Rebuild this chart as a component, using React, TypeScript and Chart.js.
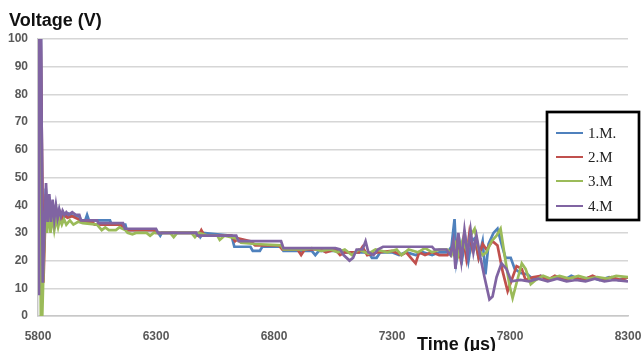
import React, { useEffect, useRef } from "react";
import { Chart, registerables } from "chart.js";

Chart.register(...registerables);

const seriesNames = ["1.M.", "2.M", "3.M", "4.M"];
const seriesColors = ["#4F81BD", "#C0504D", "#9BBB59", "#8064A2"];
const xTickLabels = [5800, 6300, 6800, 7300, 7800, 8300];
const yTickStep = 10;
const yAxisTitle = "Voltage (V)";
const xAxisTitle = "Time (µs)";

// [time µs, voltage V]
const series1: [number, number][] = [
  [5802, 102], [5812, 102], [5821, 14], [5833, 46], [5840, 33], [5847, 43], [5854, 33], [5861, 41],
  [5868, 34], [5876, 39], [5883, 35], [5890, 38], [5898, 35.5], [5906, 37.5], [5915, 36], [5930, 37],
  [5950, 36], [5975, 36], [5982, 34.5], [6000, 34.5], [6008, 36.5], [6016, 34.5], [6105, 34.5],
  [6112, 33], [6170, 33], [6176, 31], [6300, 31], [6310, 30], [6318, 29], [6325, 30], [6480, 30],
  [6488, 28.5], [6500, 30], [6620, 29], [6632, 25], [6700, 25], [6710, 23.5], [6740, 23.5],
  [6750, 25], [6830, 25], [6840, 23.5], [6960, 23.5], [6975, 22], [6990, 23.5], [7080, 23.5],
  [7100, 23], [7200, 23], [7215, 21], [7235, 21], [7250, 23], [7300, 23], [7330, 22], [7360, 23],
  [7400, 22], [7430, 23], [7470, 22], [7500, 23], [7535, 23], [7552, 25], [7565, 35], [7573, 20],
  [7586, 27], [7598, 21], [7611, 28], [7624, 20], [7637, 27], [7650, 28], [7667, 21], [7684, 27],
  [7696, 15], [7709, 26], [7730, 30], [7747, 31.5], [7764, 26], [7781, 21], [7803, 21], [7820, 17],
  [7845, 15.5], [7875, 15], [7900, 13], [7930, 14.5], [7960, 13], [8000, 14], [8030, 13],
  [8060, 14.5], [8100, 13], [8140, 14], [8180, 13], [8220, 14], [8260, 13], [8300, 14],
];

const series2: [number, number][] = [
  [5801, 102], [5811, 102], [5823, 12], [5834, 44], [5842, 33], [5850, 41], [5857, 33], [5864, 40],
  [5871, 34], [5878, 38], [5886, 34.5], [5894, 37], [5902, 35], [5910, 36.5], [5925, 35.5],
  [5945, 36], [5970, 35], [5985, 34], [6030, 34], [6040, 33], [6150, 33], [6160, 32], [6180, 31],
  [6290, 31], [6300, 30], [6470, 30], [6480, 29], [6492, 31], [6505, 29], [6620, 29], [6635, 27],
  [6650, 28], [6700, 27], [6720, 25.5], [6820, 25.5], [6835, 24], [6900, 24], [6915, 22],
  [6930, 24], [7000, 24], [7020, 23], [7060, 24], [7080, 22], [7100, 23], [7160, 23], [7175, 25],
  [7195, 22], [7240, 23], [7300, 23.5], [7340, 22], [7360, 23], [7380, 21], [7400, 19], [7415, 23],
  [7440, 22], [7470, 23], [7500, 22], [7535, 22], [7552, 24], [7565, 22], [7577, 27], [7590, 21],
  [7603, 28], [7615, 21], [7628, 30], [7641, 24], [7654, 27], [7667, 21], [7684, 26], [7700, 24],
  [7726, 27], [7747, 25.5], [7769, 16], [7790, 9], [7807, 13], [7828, 18], [7850, 17], [7866, 13],
  [7896, 14], [7930, 14.5], [7960, 13], [7990, 14.5], [8030, 13], [8070, 14], [8110, 13],
  [8150, 14.5], [8190, 13], [8230, 14], [8270, 13], [8300, 14],
];

const series3: [number, number][] = [
  [5804, 102], [5812, 0], [5818, 0], [5830, 38], [5838, 30], [5846, 38], [5853, 30], [5861, 36],
  [5869, 31], [5877, 35], [5885, 32], [5893, 35], [5901, 33], [5910, 35], [5920, 33], [5935, 34.5],
  [5950, 33], [5970, 34], [5990, 33.5], [6050, 33], [6070, 31], [6085, 32], [6100, 31], [6130, 31],
  [6145, 32], [6170, 31], [6180, 30], [6200, 29.5], [6215, 30], [6260, 30], [6275, 29], [6290, 30],
  [6360, 30], [6375, 28.5], [6390, 30], [6450, 30], [6465, 28.5], [6480, 30], [6520, 29],
  [6560, 29], [6570, 27.5], [6590, 29], [6640, 28], [6660, 26.5], [6720, 26], [6830, 25.5],
  [6840, 24], [6930, 24], [6960, 24.5], [7000, 23.5], [7040, 24], [7070, 23], [7100, 24],
  [7130, 22], [7160, 24], [7200, 22.5], [7230, 24], [7280, 23], [7320, 24], [7340, 22], [7370, 24],
  [7410, 23], [7440, 24.5], [7470, 23], [7500, 24], [7535, 24], [7552, 22], [7569, 26], [7581, 22],
  [7598, 27], [7615, 24], [7633, 29], [7650, 31.5], [7667, 24], [7684, 22], [7700, 23], [7722, 27],
  [7743, 29], [7760, 31.5], [7777, 22], [7798, 11], [7811, 6.5], [7828, 12], [7850, 19],
  [7866, 17], [7888, 11.5], [7909, 13], [7940, 14.5], [7970, 13.5], [8010, 14.5], [8050, 13.5],
  [8090, 14.5], [8130, 13.5], [8170, 14], [8210, 13.5], [8250, 14.5], [8300, 14],
];

const series4: [number, number][] = [
  [5800, 8], [5804, 102], [5813, 102], [5820, 12], [5834, 48], [5841, 34], [5848, 44], [5855, 34],
  [5862, 42], [5869, 35], [5876, 40], [5883, 35.5], [5890, 38.5], [5897, 36], [5904, 38],
  [5912, 36.5], [5920, 37.5], [5930, 36.5], [5945, 37.5], [5960, 36.5], [5975, 36.5], [5982, 34.5],
  [6050, 34.5], [6056, 33.5], [6160, 33.5], [6168, 31.5], [6300, 31.5], [6308, 30], [6470, 30],
  [6476, 29], [6640, 29], [6650, 27], [6830, 27], [6840, 24.5], [7060, 24.5], [7080, 24],
  [7095, 22], [7120, 20], [7135, 21], [7150, 24], [7175, 24], [7188, 27], [7200, 23], [7222, 22],
  [7240, 24], [7262, 25], [7470, 25], [7480, 24], [7530, 24], [7548, 22], [7560, 27], [7569, 17],
  [7581, 30], [7594, 20], [7607, 31], [7620, 22], [7633, 31], [7645, 23], [7658, 29], [7675, 21],
  [7692, 14], [7713, 6], [7726, 7], [7743, 14], [7764, 19], [7785, 17], [7806, 12.5], [7844, 13],
  [7880, 12.5], [7920, 13.5], [7960, 12.5], [8000, 13.5], [8040, 12.5], [8080, 13], [8120, 12.5],
  [8160, 13.5], [8200, 12.5], [8240, 13], [8300, 12.5],
];

const allSeries = [series1, series2, series3, series4];

const overlayPlugin = {
  id: "overlayText",
  afterDraw(chart: any) {
    const ctx = chart.ctx as CanvasRenderingContext2D;
    ctx.save();
    // axis titles
    ctx.fillStyle = "#111";
    ctx.font = "bold 18px 'Liberation Sans', Arial, sans-serif";
    ctx.textBaseline = "alphabetic";
    ctx.textAlign = "left";
    ctx.fillText(yAxisTitle, 9, 26);
    ctx.fillText(xAxisTitle, 417, 350);

    // legend box
    const bx = 547, by = 112, bw = 92, bh = 108;
    ctx.fillStyle = "#fff";
    ctx.fillRect(bx, by, bw, bh);
    ctx.strokeStyle = "#000";
    ctx.lineWidth = 2.7;
    ctx.strokeRect(bx, by, bw, bh);
    const rows = [133, 157, 181, 206];
    seriesNames.forEach((name, i) => {
      ctx.strokeStyle = seriesColors[i];
      ctx.lineWidth = 2;
      ctx.beginPath();
      ctx.moveTo(556, rows[i]);
      ctx.lineTo(583, rows[i]);
      ctx.stroke();
      ctx.fillStyle = "#222";
      ctx.font = "15px 'Liberation Serif', 'Times New Roman', serif";
      ctx.textBaseline = "middle";
      ctx.fillText(name, 588, rows[i] + 1);
    });
    ctx.restore();
  },
};

export default function App() {
  const ref = useRef<HTMLCanvasElement | null>(null);
  useEffect(() => {
    if (!ref.current) return;
    const chart = new Chart(ref.current, {
      type: "line",
      data: {
        datasets: allSeries.map((s, i) => ({
          label: seriesNames[i],
          data: s.map(([x, y]) => ({ x, y })),
          borderColor: seriesColors[i],
          backgroundColor: seriesColors[i],
          borderWidth: 2.7,
          pointRadius: 0,
          tension: 0,
          fill: false,
          order: 4 - i,
        })),
      },
      options: {
        responsive: false,
        animation: false,
        layout: { padding: { left: 0, right: 0, top: 39, bottom: 0 } },
        plugins: { legend: { display: false }, title: { display: false }, tooltip: { enabled: false } },
        scales: {
          x: {
            type: "linear",
            min: xTickLabels[0],
            max: xTickLabels[xTickLabels.length - 1],
            afterBuildTicks: (scale: any) => {
              scale.ticks = xTickLabels.map((v) => ({ value: v }));
            },
            afterFit: (scale: any) => {
              scale.height = 35;
              scale.paddingRight = 13;
              scale.paddingLeft = 0;
            },
            grid: { display: false, drawTicks: false },
            border: { display: true, color: "#c8c8c8", width: 1.5 },
            ticks: {
              padding: 13,
              maxRotation: 0,
              color: "#595959",
              font: { family: "'Liberation Sans', Arial, sans-serif", size: 12, weight: "bold" },
              callback: (v: any) => String(v),
            },
          },
          y: {
            min: 0,
            max: 100,
            afterFit: (scale: any) => {
              scale.width = 38;
            },
            grid: { color: "#d6d6d6", lineWidth: 1.6, drawTicks: false },
            border: { display: true, color: "#c8c8c8", width: 1.5 },
            ticks: {
              stepSize: yTickStep,
              padding: 10,
              color: "#595959",
              font: { family: "'Liberation Sans', Arial, sans-serif", size: 12, weight: "bold" },
            },
          },
        },
      },
      plugins: [overlayPlugin],
    } as any);
    return () => chart.destroy();
  }, []);
  return (
    <div style={{ position: "fixed", left: 0, top: 0, width: 641, height: 351, background: "#fff" }}>
      <canvas ref={ref} width={641} height={351} style={{ display: "block" }} />
    </div>
  );
}
